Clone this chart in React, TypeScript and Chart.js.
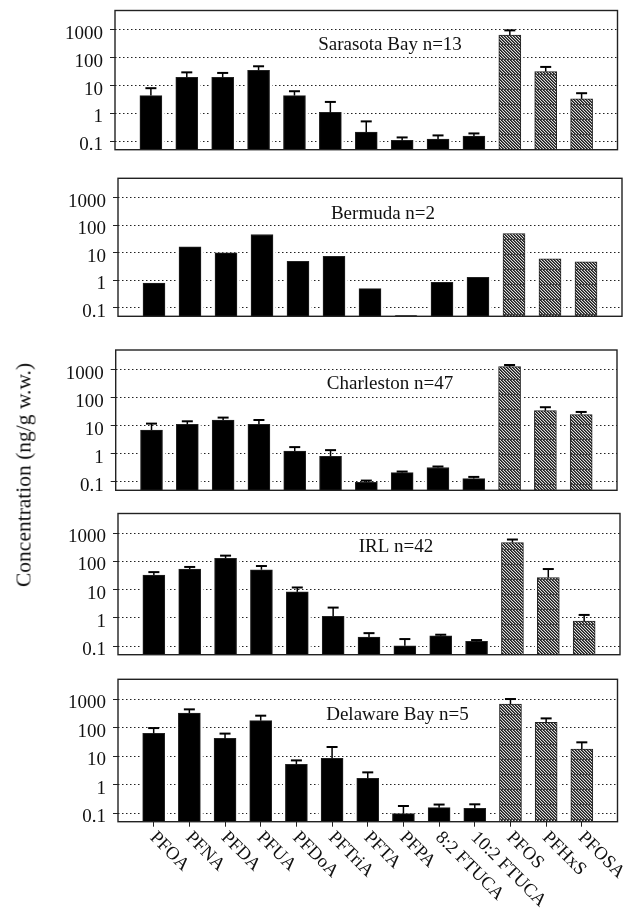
import { useEffect, useRef } from "react";
import { Chart, registerables } from "chart.js";

Chart.register(...registerables);

const categories = ["PFOA", "PFNA", "PFDA", "PFUA", "PFDoA", "PFTriA", "PFTA", "PFPA", "8:2 FTUCA", "10:2 FTUCA", "PFOS", "PFHxS", "PFOSA"];
const yTickValues = [0.1, 1, 10, 100, 1000];

const sarasotaMeans = [4.4, 20, 20, 35.7, 4.4, 1.09, 0.214, 0.108, 0.12, 0.154, 658, 32, 3.35];
const sarasotaUpper = [8.1, 30, 28.6, 49.6, 6.3, 2.6, 0.52, 0.138, 0.163, 0.192, 967, 47, 5.35];

const bermudaMeans = [0.8, 16.5, 10, 46, 4.9, 7.4, 0.5, 0.053, 0.85, 1.28, 50, 6.07, 4.7];
const bermudaUpper: number[] = [];

const charlestonMeans = [7, 11.2, 16, 11.2, 1.25, 0.82, 0.097, 0.214, 0.324, 0.131, 1271, 34.7, 25];
const charlestonUpper = [11.9, 14.4, 19.5, 16, 1.73, 1.35, 0.111, 0.233, 0.352, 0.15, 1460, 45.7, 31];

const irlMeans = [33, 54, 130, 51, 8.4, 1.15, 0.21, 0.103, 0.235, 0.148, 468, 27, 0.78];
const irlUpper = [42, 64, 161, 69, 12, 2.33, 0.29, 0.179, 0.255, 0.165, 599, 54, 1.28];

const delawareMeans = [63, 327, 42, 176, 5.2, 8.4, 1.67, 0.096, 0.156, 0.148, 677, 154, 17.8];
const delawareUpper = [97, 440, 62, 264, 7.1, 21, 2.7, 0.178, 0.2, 0.204, 1014, 212, 30.6];

const SERIF = '"Liberation Serif"';
const INK = "#111";

// pixel layout of each panel on the page
const panels = [
  { title: "Sarasota Bay n=13", means: sarasotaMeans, upper: sarasotaUpper, canvasTop: 0, canvasBottom: 165, left: 115, right: 617.5, top: 10.5, bottom: 149.7, titleX: 390, titleY: 45 },
  { title: "Bermuda n=2", means: bermudaMeans, upper: bermudaUpper, canvasTop: 165, canvasBottom: 335, left: 118, right: 622, top: 178.3, bottom: 316.3, titleX: 383, titleY: 214 },
  { title: "Charleston n=47", means: charlestonMeans, upper: charlestonUpper, canvasTop: 335, canvasBottom: 505, left: 115.7, right: 617, top: 350, bottom: 490.3, titleX: 390, titleY: 384 },
  { title: "IRL n=42", means: irlMeans, upper: irlUpper, canvasTop: 505, canvasBottom: 670, left: 118, right: 620, top: 513.5, bottom: 654.7, titleX: 396, titleY: 547 },
  { title: "Delaware Bay n=5", means: delawareMeans, upper: delawareUpper, canvasTop: 670, canvasBottom: 911, left: 118, right: 617.5, top: 679.3, bottom: 821.7, titleX: 397.5, titleY: 715, showLabels: true },
];

function makeHatch(ctx: CanvasRenderingContext2D) {
  const tile = document.createElement("canvas");
  tile.width = 15;
  tile.height = 15;
  const t = tile.getContext("2d")!;
  const shades = ["#1c1c1c", "#5a5a5a", "#dedede"];
  for (let y = 0; y < 15; y++) {
    for (let x = 0; x < 15; x++) {
      t.fillStyle = shades[(x - y + 15) % 3];
      t.fillRect(x, y, 1, 1);
    }
  }
  t.fillStyle = "#444";
  t.fillRect(0, 14, 15, 1);
  return ctx.createPattern(tile, "repeat")!;
}

const panelPlugin = {
  id: "panelExtras",
  // the dotted lines stop short of each bar in the original
  beforeDatasetsDraw(chart: any) {
    const { ctx } = chart;
    ctx.save();
    ctx.fillStyle = "#fff";
    chart.getDatasetMeta(0).data.forEach((bar: any) => {
      if (!bar.width || Number.isNaN(bar.y)) return;
      ctx.fillRect(bar.x - bar.width / 2 - 2.5, bar.y, bar.width + 5, bar.base - bar.y);
    });
    ctx.restore();
  },
  afterDatasetsDraw(chart: any, _args: any, opts: any) {
    const { ctx, chartArea, scales } = chart;
    const { x, y } = scales;

    // error bars, top half only
    ctx.save();
    ctx.strokeStyle = "#000";
    (opts.upper as number[]).forEach((v, i) => {
      const px = x.getPixelForValue(i + 1);
      const top = y.getPixelForValue(v);
      ctx.lineWidth = 1.5;
      ctx.beginPath();
      ctx.moveTo(px, y.getPixelForValue(opts.means[i]));
      ctx.lineTo(px, top);
      ctx.stroke();
      ctx.lineWidth = 2;
      ctx.beginPath();
      ctx.moveTo(px - 5.5, top);
      ctx.lineTo(px + 5.5, top);
      ctx.stroke();
    });

    // frame
    ctx.strokeStyle = "#222";
    ctx.lineWidth = 1.4;
    ctx.strokeRect(chartArea.left, chartArea.top, chartArea.right - chartArea.left, chartArea.bottom - chartArea.top);

    ctx.fillStyle = INK;
    ctx.font = `19px ${SERIF}`;
    ctx.textAlign = "center";
    ctx.textBaseline = "middle";
    ctx.fillText(opts.title, opts.titleX, opts.titleY - opts.canvasTop);

    // y labels sit a little under their ticks in the original
    ctx.textAlign = "right";
    y.ticks.forEach((t: any, i: number) => {
      ctx.fillText(String(t.value), chartArea.left - 12, y.getPixelForTick(i) + 4);
    });

    if (opts.showLabels) {
      ctx.font = `18.5px ${SERIF}`;
      ctx.textAlign = "left";
      categories.forEach((c, i) => {
        ctx.save();
        ctx.translate(x.getPixelForValue(i + 1) - 1, chartArea.bottom + 13);
        ctx.rotate(Math.PI / 4);
        ctx.fillText(c, 0, 0);
        ctx.restore();
      });
    }
    ctx.restore();
  },
};

function Panel({ panel }: { panel: (typeof panels)[number] }) {
  const canvasRef = useRef<HTMLCanvasElement>(null);
  const height = panel.canvasBottom - panel.canvasTop;

  useEffect(() => {
    if (!canvasRef.current) return;
    const hatch = makeHatch(canvasRef.current.getContext("2d")!);
    const chart = new Chart(canvasRef.current, {
      type: "bar",
      // blank end slots leave the one-bar gap at both sides of the frame
      data: {
        labels: ["", ...categories, ""],
        datasets: [{
          data: [null, ...panel.means, null],
          backgroundColor: [null, ...categories.map((_, i) => (i >= 10 ? hatch : "#000")), null],
          borderColor: "#222",
          borderWidth: 1,
          barThickness: 22,
        }],
      },
      options: {
        responsive: false,
        animation: false,
        layout: { padding: { top: panel.top - panel.canvasTop, right: 623 - panel.right, left: 0, bottom: 0 } },
        scales: {
          x: {
            type: "category",
            offset: false,
            afterFit: (s: any) => { s.height = panel.canvasBottom - panel.bottom; },
            ticks: { display: false, autoSkip: false },
            border: { display: false },
            grid: {
              offset: false,
              drawOnChartArea: false,
              drawTicks: !!panel.showLabels,
              tickLength: 5,
              tickColor: (c: any) => (c.index === 0 || c.index === categories.length + 1 ? "transparent" : "#222"),
            },
          },
          y: {
            type: "logarithmic",
            min: 0.05,
            max: 5000,
            afterFit: (s: any) => { s.width = panel.left; },
            afterBuildTicks: (s: any) => { s.ticks = yTickValues.map((value) => ({ value })); },
            ticks: { display: false, autoSkip: false },
            border: { display: false, dash: [1.5, 2.5] },
            grid: { color: "#222", lineWidth: 1, tickColor: "#222", tickLength: 5 },
          },
        },
        plugins: {
          legend: { display: false },
          tooltip: { enabled: false },
          panelExtras: { ...panel },
        },
      } as any,
      plugins: [panelPlugin],
    });
    return () => { chart.destroy(); };
  }, [panel]);

  return (
    <canvas
      ref={canvasRef}
      width={623}
      height={height}
      style={{ position: "absolute", left: 0, top: panel.canvasTop, width: 623, height }}
    />
  );
}

export default function App() {
  return (
    <div style={{ position: "absolute", left: 0, top: 0, width: 623, height: 911, overflow: "hidden", background: "#fff" }}>
      {panels.map((p) => <Panel key={p.title} panel={p} />)}
      <div style={{
        position: "absolute", left: 24, top: 475, whiteSpace: "nowrap", color: INK,
        fontFamily: SERIF, fontSize: 21.5,
        transform: "translate(-50%, -50%) rotate(-90deg)",
      }}>
        Concentration (ng/g w.w.)
      </div>
    </div>
  );
}
